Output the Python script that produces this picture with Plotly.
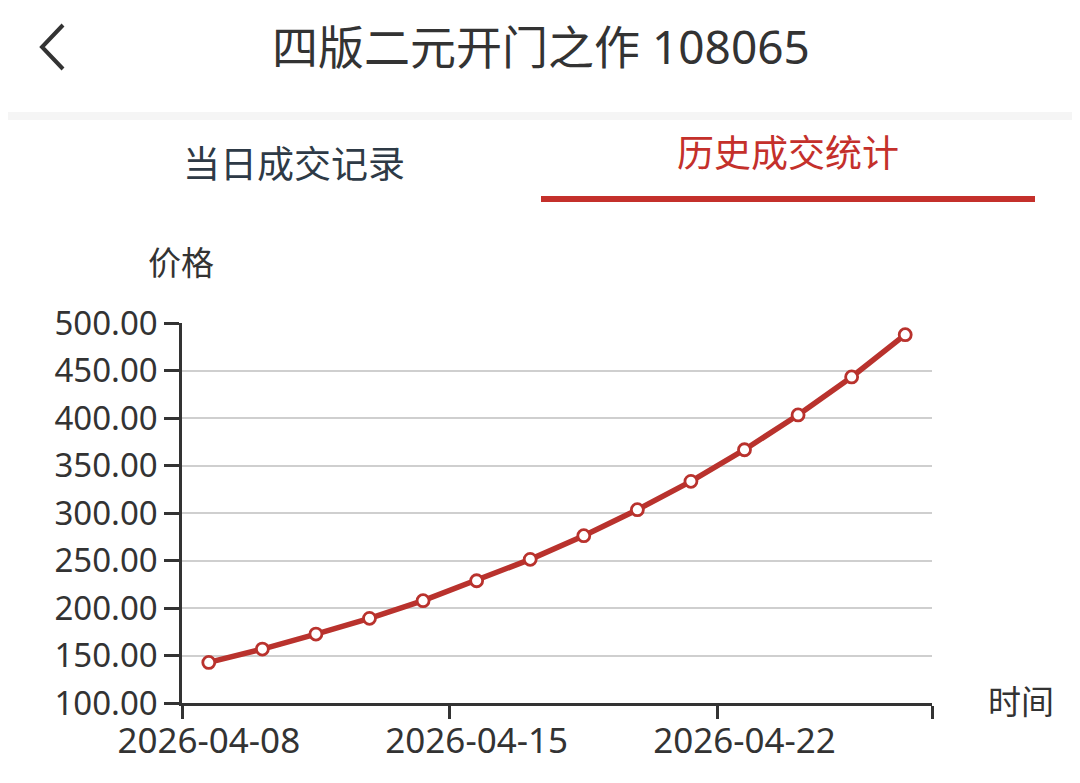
import plotly.graph_objects as go

# ---- data ----
dates = ['2026-04-08', '2026-04-09', '2026-04-10', '2026-04-13', '2026-04-14',
         '2026-04-15', '2026-04-16', '2026-04-17', '2026-04-20', '2026-04-21',
         '2026-04-22', '2026-04-23', '2026-04-24', '2026-04-27']
prices = [142.7, 156.8, 172.6, 189.1, 207.7, 228.7, 251.2, 276.1,
          303.5, 333.3, 366.6, 403.2, 443.2, 487.7]
label_idx = [0, 5, 10]
y_ticks = [100, 150, 200, 250, 300, 350, 400, 450, 500]

title_text = '四版二元开门之作 108065'
tab_left = '当日成交记录'
tab_right = '历史成交统计'
y_name = '价格'
x_name = '时间'

# ---- layout helpers (reference pixel coords; page body has an 8px margin) ----
OFF = 8
W, H = 1080 - OFF, 783 - OFF
PLOT_X0, PLOT_X1 = 182, 932
PLOT_Y0, PLOT_Y1 = 323, 703
L, T = PLOT_X0 - OFF, PLOT_Y0 - OFF
PW, PH = PLOT_X1 - PLOT_X0, PLOT_Y1 - PLOT_Y0
R, B = W - L - PW, H - T - PH


def px(x):
    return (x - PLOT_X0) / PW


def py(y):
    return (PLOT_Y1 - y) / PH


FONT = 'Noto Sans, Noto Sans CJK SC, sans-serif'
RED = '#b9322d'
TXT = '#333333'

xs = list(range(len(dates)))

fig = go.Figure()
fig.add_trace(go.Scatter(
    x=xs, y=prices, mode='lines+markers',
    line=dict(color=RED, width=5.5),
    marker=dict(size=12, color='white', line=dict(color=RED, width=2.8)),
    cliponaxis=False, hoverinfo='skip', showlegend=False,
))

n = len(dates)
fig.update_xaxes(
    range=[-0.5, n - 0.5],
    tickmode='array', tickvals=label_idx, ticktext=[dates[i] for i in label_idx],
    ticks='', showgrid=False, zeroline=False,
    showline=True, linecolor=TXT, linewidth=2.5,
    tickfont=dict(family=FONT, size=35, color=TXT),
    ticklabelstandoff=5,
    minor=dict(tickmode='array', tickvals=[-0.5, 4.5, 9.5, n - 0.5],
               ticks='outside', ticklen=13, tickwidth=2.5, tickcolor=TXT,
               showgrid=False),
)
fig.update_yaxes(
    range=[100, 500], tickmode='array', tickvals=y_ticks, tickformat='.2f',
    ticks='outside', ticklen=15, tickwidth=2.5, tickcolor=TXT,
    showline=True, linecolor=TXT, linewidth=2.5,
    showgrid=True, gridcolor='#cfcfcf', gridwidth=2, zeroline=False,
    tickfont=dict(family=FONT, size=33, color=TXT),
)

shapes = [
    dict(type='rect', xref='paper', yref='paper', x0=px(OFF), x1=px(1080 + 20),
         y0=py(120), y1=py(112), fillcolor='#f5f5f5', line=dict(width=0),
         layer='below'),
    dict(type='rect', xref='paper', yref='paper', x0=px(541), x1=px(1035),
         y0=py(202), y1=py(196), fillcolor='#c4302b', line=dict(width=0)),
    dict(type='path', xref='paper', yref='paper',
         path=f'M {px(63)} {py(25)} L {px(42)} {py(47)} L {px(63)} {py(69)}',
         line=dict(color=TXT, width=4)),
]

annotations = [
    dict(text=title_text, x=px(541), y=py(46), size=46, color=TXT),
    dict(text=tab_left, x=px(294), y=py(163), size=37, color='#2e3a46'),
    dict(text=tab_right, x=px(788), y=py(153), size=37, color='#c4302b'),
    dict(text=y_name, x=px(181), y=py(262), size=33, color=TXT),
    dict(text=x_name, x=px(1021), y=py(701), size=33, color=TXT),
]
fig.update_layout(
    width=W, height=H, margin=dict(l=L, r=R, t=T, b=B),
    paper_bgcolor='white', plot_bgcolor='white',
    shapes=shapes,
    annotations=[dict(text=a['text'], xref='paper', yref='paper', x=a['x'], y=a['y'],
                      xanchor='center', yanchor='middle', showarrow=False,
                      font=dict(family=FONT, size=a['size'], color=a['color']))
                 for a in annotations],
)

fig.write_html('out.html')
